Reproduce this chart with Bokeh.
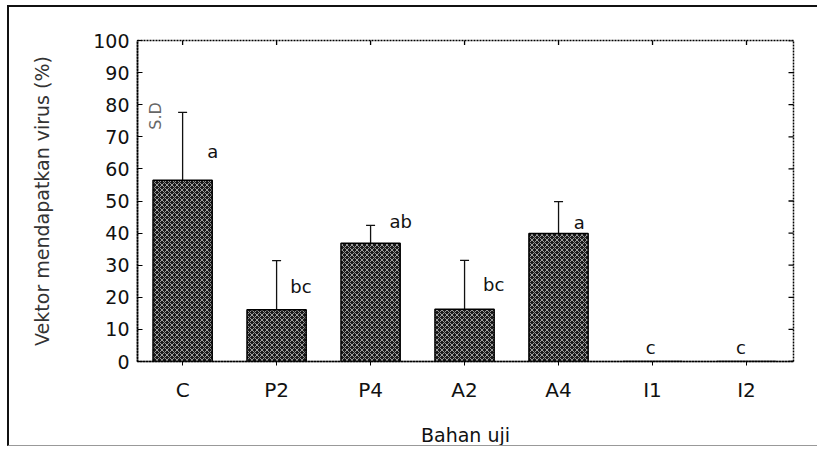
import math
from bokeh.plotting import figure
from bokeh.models import (ColumnDataSource, Whisker, TeeHead, LinearAxis,
                          FixedTicker, Range1d)
from bokeh.core.properties import value
from bokeh.embed import file_html
from bokeh.resources import INLINE

# ---- data ----
categories = ["C", "P2", "P4", "A2", "A4", "I1", "I2"]
means = [56.5, 16.1, 36.8, 16.3, 39.9, 0.0, 0.0]
sd = [21.1, 15.3, 5.6, 15.2, 9.9, 0.0, 0.0]
letters = ["a", "bc", "ab", "bc", "a", "c", "c"]
letter_y = [65.3, 23.4, 43.6, 24.1, 43.3, 4.5, 4.5]
y_ticks = [0, 10, 20, 30, 40, 50, 60, 70, 80, 90, 100]
sd_note = "S.D"
sd_note_y = 76.5

FONT = "DejaVu Sans"
X0, X1 = -0.48, 6.5
Y0, Y1 = 0, 100

xs = list(range(len(categories)))
upper = [m + s for m, s in zip(means, sd)]
has_err = [s > 0 for s in sd]

bar_src = ColumnDataSource(dict(x=xs, top=means))
err_src = ColumnDataSource(dict(
    x=[x for x, h in zip(xs, has_err) if h],
    lower=[m for m, h in zip(means, has_err) if h],
    upper=[u for u, h in zip(upper, has_err) if h]))
letter_offsets = [0.32, 0.26, 0.32, 0.31, 0.22, -0.02, -0.06]
lab_src = ColumnDataSource(dict(
    x=[x + o for x, o in zip(xs, letter_offsets)], y=letter_y, t=letters))

W, H = 810, 441
ML, MT, MR, MB = 128, 33, 26, 85
p = figure(width=W, height=H, output_backend="svg", toolbar_location=None,
           x_range=Range1d(X0, X1), y_range=Range1d(Y0, Y1),
           min_border_left=ML, min_border_right=MR, min_border_top=MT,
           min_border_bottom=MB, x_axis_location=None, y_axis_location=None)
# scanned-page frame: black left/top edge, grey bottom edge
p.styles = {"margin-left": "7px", "margin-top": "5px",
            "border-left": "2px solid #111", "border-top": "2px solid #111",
            "border-bottom": "1px solid #999"}
p.background_fill_color = "white"
p.border_fill_color = "white"
p.xgrid.grid_line_color = None
p.ygrid.grid_line_color = None
dash = "2 1"
p.outline_line_color = "#000"
p.outline_line_width = 1.5
p.outline_line_dash = dash

# bars
p.vbar(x="x", top="top", bottom=0, width=0.63, source=bar_src,
       fill_color="#1a1a1a", line_color="#000000", line_width=1.5,
       hatch_pattern="diagonal_cross", hatch_color="#9c9c9c",
       hatch_scale=5, hatch_weight=1.0)

# error bars (upper only)
p.add_layout(Whisker(source=err_src, base="x", lower="lower", upper="upper",
                     dimension="height", line_color="#111", line_width=1.3,
                     upper_head=TeeHead(size=9, line_color="#111", line_width=1.3),
                     lower_head=None))

# inner ticks on top and right frame edges
p.scatter(x=xs, y=[Y1] * len(xs), marker="dash", angle=math.pi / 2, size=9,
          line_color="#000", line_width=1.3)
p.scatter(x=[X1] * len(y_ticks), y=y_ticks, marker="dash", size=10,
          line_color="#000", line_width=1.3)

# significance letters
p.text(x="x", y="y", text="t", source=lab_src, text_align="center",
       text_baseline="middle", text_font=value(FONT),
       text_font_size="18px", text_color="#111")

# S.D note
p.text(x=[-0.29], y=[sd_note_y], text=[sd_note], angle=math.pi / 2,
       text_align="center", text_baseline="middle", text_font=value(FONT),
       text_font_size="16px", text_color="#666")

x_ticker = FixedTicker(ticks=xs)
y_ticker = FixedTicker(ticks=y_ticks)

xb = LinearAxis(ticker=x_ticker, axis_label="Bahan uji")
xb.major_label_overrides = {i: c for i, c in enumerate(categories)}
xb.major_label_text_font = FONT
xb.major_label_text_font_size = "20px"
xb.major_label_text_color = "#111"
xb.major_label_standoff = 12
xb.major_tick_out = 4
xb.major_tick_in = 0
xb.minor_tick_out = 0
xb.minor_tick_in = 0
xb.axis_line_dash = dash
xb.axis_line_width = 1.5
xb.axis_label_text_font = FONT
xb.axis_label_text_font_size = "19px"
xb.axis_label_text_font_style = "normal"
xb.axis_label_text_color = "#111"
xb.axis_label_standoff = 19
p.add_layout(xb, "below")

yl = LinearAxis(ticker=y_ticker, axis_label="Vektor mendapatkan virus (%)")
yl.major_label_text_font = FONT
yl.major_label_text_font_size = "19px"
yl.major_label_text_color = "#111"
yl.major_label_standoff = 8
yl.major_tick_out = 0
yl.major_tick_in = 5
yl.minor_tick_out = 0
yl.minor_tick_in = 0
yl.axis_line_dash = dash
yl.axis_line_width = 1.8
yl.axis_label_text_font = FONT
yl.axis_label_text_font_size = "19px"
yl.axis_label_text_font_style = "normal"
yl.axis_label_text_color = "#333"
yl.axis_label_standoff = 37
p.add_layout(yl, "left")

open("out.html", "w").write(file_html(p, INLINE))
